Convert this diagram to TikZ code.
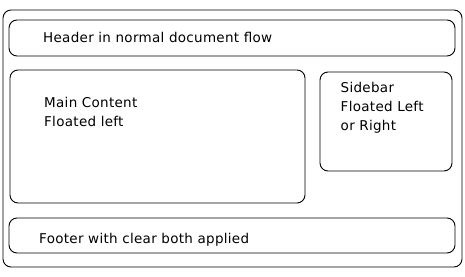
\documentclass[tikz,border=0pt]{standalone}
\usepackage{fontspec}
\setmainfont[LetterSpace=2.2]{DejaVu Sans}

\begin{document}
\begin{tikzpicture}[
  x=1pt,y=-1pt,
  font=\fontsize{13.5}{19}\selectfont,
  box/.style={draw,line width=0.9pt,rounded corners=8pt,inner sep=0pt},
  txt/.style={anchor=north west,inner sep=0pt,align=left}
]
\useasboundingbox (0,0) rectangle (465,276);

\node[box,minimum width=459,minimum height=257] (page) at (232.5,138.5) {};
\node[box,minimum width=446,minimum height=36] (header) at (232,38) {};
\node[box,minimum width=295,minimum height=133] (main) at (157.5,136.5) {};
\node[box,minimum width=132,minimum height=99] (sidebar) at (386,121.5) {};
\node[box,minimum width=446,minimum height=35] (footer) at (232,235.5) {};

\node[txt] (headertxt) at (43,32) {Header in normal document flow};
\node[txt] (maintxt) at (44,96.7) {Main Content\\Floated left};
\node[txt] (sidebartxt) at (340.5,82) {Sidebar\\Floated Left\\or Right};
\node[txt] (footertxt) at (39,232.7) {Footer with clear both applied};
\end{tikzpicture}
\end{document}
